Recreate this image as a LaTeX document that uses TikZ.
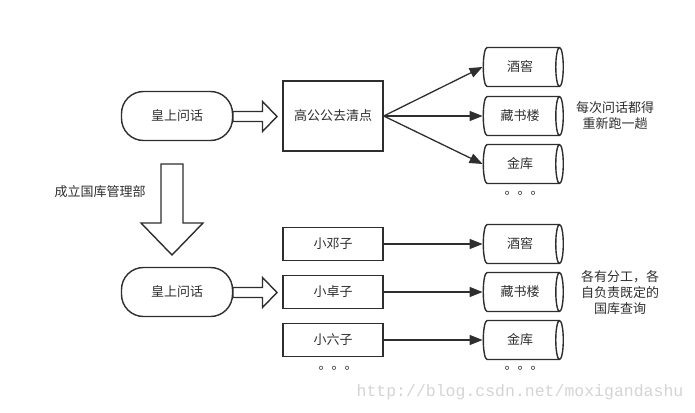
\documentclass[tikz,border=0pt]{standalone}
\usepackage{fontspec}
\newfontfamily\cjk{Noto Sans CJK SC}
\newfontfamily\wmfont{Liberation Mono}
\usetikzlibrary{shapes.geometric,arrows.meta}
\definecolor{ink}{HTML}{2E2E2E}
\definecolor{mark}{HTML}{D4D4D4}
\tikzset{
  ask/.style={draw=ink,line width=1.4pt,rounded corners=22pt,minimum width=111pt,minimum height=49pt},
  worker/.style={draw=ink,line width=1.4pt,minimum width=100pt,minimum height=33pt},
  store/.style={cylinder,draw=ink,line width=1.4pt,shape border rotate=0,aspect=0.4,minimum height=80pt,minimum width=39pt},
  hollow/.style={draw=ink,line width=1.4pt,fill=white,line join=miter},
  link/.style={draw=ink,line width=1.3pt,-{Triangle[length=13pt,width=10pt]}},
  more/.style={font=\cjk\fontsize{13}{13}\selectfont,text=ink}
}
\begin{document}
\begin{tikzpicture}[x=1pt,y=-1pt,font=\cjk\fontsize{13}{16}\selectfont,text=ink]
\useasboundingbox (0,0) rectangle (695,412);
% before
\node[ask] (ask1) at (177,116) {皇上问话};
\node[draw=ink,line width=1.4pt,minimum width=100pt,minimum height=70pt] (gao) at (333,116) {高公公去清点};
\node[store] (jiu1) at (520,67) {酒窖};
\node[store] (cang1) at (520,116) {藏书楼};
\node[store] (jin1) at (520,164) {金库};
\node[more] (dots1) at (524,193) {。。。};
\node[align=center] (note1) at (615,116) {每次问话都得\\重新跑一趟};
\draw[hollow] (233,111.5) -- (262.5,111.5) -- (262.5,101.5) -- (277,116.5) -- (262.5,131.5) -- (262.5,121.5) -- (233,121.5) -- cycle;
\draw[link] (gao.east) -- (jiu1.west);
\draw[link] (gao.east) -- (cang1.west);
\draw[link] (gao.east) -- (jin1.west);
% change
\draw[hollow] (161,164) -- (183,164) -- (183,223) -- (203,223) -- (172,255) -- (141,223) -- (161,223) -- cycle;
\node (dept) at (100,192) {成立国库管理部};
% after
\node[ask] (ask2) at (177,292) {皇上问话};
\draw[hollow] (233,287.5) -- (262.5,287.5) -- (262.5,277.5) -- (277,292.5) -- (262.5,307.5) -- (262.5,297.5) -- (233,297.5) -- cycle;
\node[worker] (deng) at (333,244) {小邓子};
\node[worker] (zhuo) at (333,292) {小卓子};
\node[worker] (liu) at (333,340) {小六子};
\node[more] (dots2) at (338,368) {。。。};
\node[store] (jiu2) at (520,244) {酒窖};
\node[store] (cang2) at (520,292) {藏书楼};
\node[store] (jin2) at (520,340) {金库};
\node[more] (dots3) at (524,368) {。。。};
\node[align=center] (note2) at (620,293) {各有分工，各\\自负责既定的\\国库查询};
\draw[link] (deng.east) -- (jiu2.west);
\draw[link] (zhuo.east) -- (cang2.west);
\draw[link] (liu.east) -- (jin2.west);
\node[font=\wmfont\fontsize{16.5}{16.5}\selectfont,text=mark] (wm) at (520,392) {http://blog.csdn.net/moxigandashu};
\end{tikzpicture}
\end{document}
